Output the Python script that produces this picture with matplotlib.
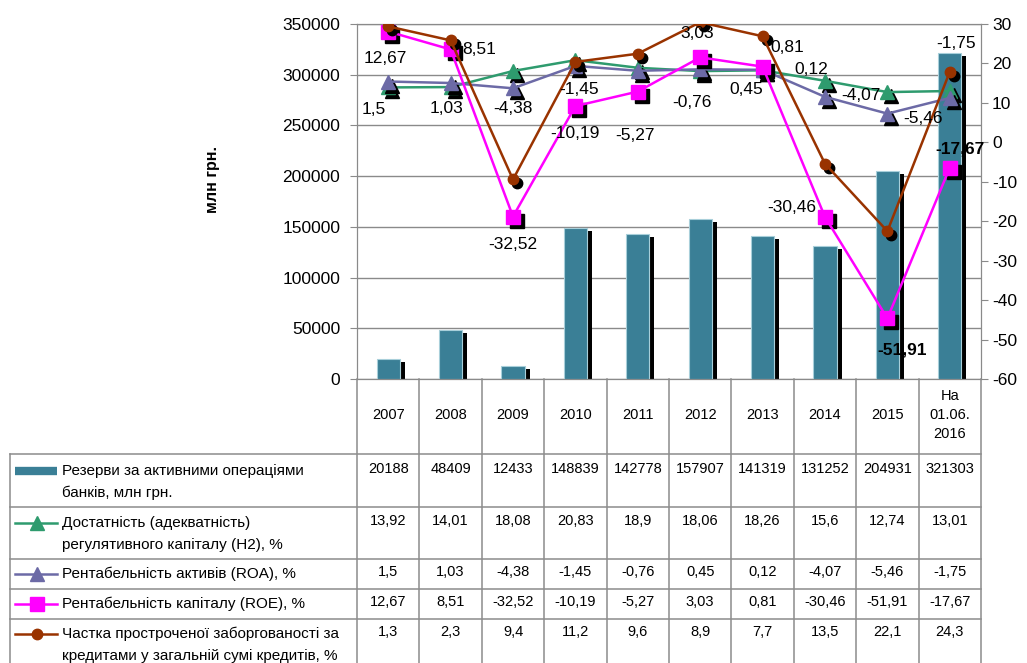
import numpy as np
import matplotlib
matplotlib.use('Agg')
import matplotlib.pyplot as plt
from matplotlib.transforms import offset_copy

plt.rcParams['font.family'] = ['Liberation Sans', 'DejaVu Sans']
plt.rcParams['axes.unicode_minus'] = False

periods = ['2007', '2008', '2009', '2010', '2011', '2012', '2013', '2014', '2015', 'На\n01.06.\n2016']
reserves = [20188, 48409, 12433, 148839, 142778, 157907, 141319, 131252, 204931, 321303]
h2 = [13.92, 14.01, 18.08, 20.83, 18.9, 18.06, 18.26, 15.6, 12.74, 13.01]
roa = [1.5, 1.03, -4.38, -1.45, -0.76, 0.45, 0.12, -4.07, -5.46, -1.75]
roe = [12.67, 8.51, -32.52, -10.19, -5.27, 3.03, 0.81, -30.46, -51.91, -17.67]
npl = [1.3, 2.3, 9.4, 11.2, 9.6, 8.9, 7.7, 13.5, 22.1, 24.3]

names = ['Резерви за активними операціями\nбанків, млн грн.',
         'Достатність (адекватність)\nрегулятивного капіталу (Н2), %',
         'Рентабельність активів (ROA), %',
         'Рентабельність капіталу (ROE), %',
         'Частка простроченої заборгованості за\nкредитами у загальній сумі кредитів, %']

# --- styles ---
W, H = 1027, 663
BAR = '#3A7F96'
line_colors = ['#2E9B6E', '#6C6AA6', '#FF00FF', '#993300']
line_markers = ['^', '^', 's', 'o']
marker_sizes = [10.5, 10.5, 10, 7.5]
GRID = '#8a8a8a'

# label offsets in pixels (dx right, dy down)
roe_off = [(-3, 27), (29, 0), (0, 28), (0, 27), (-3, 44), (-3, -24), (25, -19), (-33, -10), (15, 32), (10, -19)]
roa_off = [(-14, 28), (-4, 25), (0, 20), (4, 24), (54, 32), (46, 20), (49, 0), (36, -1), (36, 5), (6, -54)]
roe_bold = [False] * 8 + [True, True]

fig = plt.figure(figsize=(W / 100, H / 100), dpi=100)

px_l, px_r, px_t, px_b = 357, 981, 24, 379
ax = fig.add_axes([px_l / W, 1 - px_b / H, (px_r - px_l) / W, (px_b - px_t) / H])
x = np.arange(len(periods))

# bars with an Excel-like shadow
shadow_bar = offset_copy(ax.transData, fig=fig, x=5, y=-3, units='dots')
ax.bar(x, reserves, width=0.37, color='black', transform=shadow_bar, zorder=2)
ax.bar(x, reserves, width=0.37, color=BAR, edgecolor='#A8CFDA', linewidth=0.8, zorder=3)
ax.set_xlim(-0.5, len(periods) - 0.5)
ax.set_ylim(0, 350000)
ax.set_yticks(range(0, 350001, 50000))
ax.yaxis.grid(True, color=GRID, linewidth=1)
ax.set_axisbelow(True)
ax.tick_params(axis='x', bottom=False, labelbottom=False)
ax.tick_params(axis='y', length=5, color=GRID, labelsize=12.5, pad=7)
for s in ax.spines.values():
    s.set_color(GRID)

# stacked lines on the secondary axis (Excel "stacked line" type)
stack = np.cumsum([h2, roa, roe, npl], axis=0)
ax2 = ax.twinx()
ax2.set_ylim(-60, 30)
ax2.set_yticks(range(-60, 31, 10))
ax2.tick_params(axis='y', length=5, color=GRID, labelsize=12.5, pad=3)
for s in ax2.spines.values():
    s.set_color(GRID)

shadow = offset_copy(ax2.transData, fig=fig, x=4, y=-4, units='dots')
for k in range(4):
    ax2.plot(x, stack[k], ls='none', marker=line_markers[k], ms=marker_sizes[k],
             color='black', transform=shadow, zorder=2 + 2 * k)
    ax2.plot(x, stack[k], color=line_colors[k], lw=1.8, marker=line_markers[k],
             ms=marker_sizes[k], mfc=line_colors[k], mec=line_colors[k], zorder=3 + 2 * k)

for i in range(len(x)):
    dx, dy = roa_off[i]
    ax2.annotate(f'{roa[i]:g}'.replace('.', ','), (x[i], stack[1][i]), xytext=(dx, -dy),
                 textcoords='offset pixels', ha='center', va='center', fontsize=12.5, zorder=20)
    dx, dy = roe_off[i]
    ax2.annotate(f'{roe[i]:g}'.replace('.', ','), (x[i], stack[2][i]), xytext=(dx, -dy),
                 textcoords='offset pixels', ha='center', va='center', fontsize=12.5,
                 fontweight='bold' if roe_bold[i] else 'normal', zorder=20)

fig.text(212 / W, 1 - 180 / H, 'млн грн.', rotation=90, fontsize=11.5,
         fontweight='bold', ha='center', va='center')

# --- data table below the plot ---
cw = (px_r - px_l) / len(periods)
lead = (px_l - 10) / cw
axt = fig.add_axes([10 / W, 0, (px_r - 10) / W, (H - px_b) / H])
axt.set_xlim(-0.5 - lead, len(periods) - 0.5)
axt.set_ylim(H - px_b, 0)
axt.axis('off')


def px2x(p):
    return -0.5 - lead + (p - 10) / cw


row_lines = [75, 128, 180, 210, 240]
line_kw = dict(color='#8c8c8c', lw=1.1, clip_on=False)
for i in range(len(periods) + 1):
    axt.plot([i - 0.5, i - 0.5], [0, H - px_b], **line_kw)
axt.plot([px2x(10), px2x(10)], [75, H - px_b], **line_kw)
for yl in row_lines:
    axt.plot([px2x(10), len(periods) - 0.5], [yl, yl], **line_kw)

for i, p in enumerate(periods):
    axt.text(i, 36, p, ha='center', va='center', fontsize=10.5, linespacing=1.45)

row_y = [92, 144, 195, 225, 255]
table_vals = [reserves, h2, roa, roe, npl]
for r in range(5):
    for i, v in enumerate(table_vals[r]):
        axt.text(i, row_y[r] - 2, f'{v:g}'.replace('.', ','), ha='center', va='center', fontsize=10.5)
    for j, ln in enumerate(names[r].split('\n')):
        axt.text(px2x(62), row_y[r] + 22 * j, ln, ha='left', va='center', fontsize=11)

# legend keys
kx = [px2x(15), px2x(57)]
axt.plot(kx, [row_y[0], row_y[0]], color=BAR, lw=6, solid_capstyle='butt')
for k in range(4):
    yk = row_y[k + 1]
    axt.plot(kx, [yk, yk], color=line_colors[k], lw=1.8)
    axt.plot([px2x(37)], [yk], marker=line_markers[k], ms=marker_sizes[k],
             color=line_colors[k], ls='none')

fig.savefig('out.png', dpi=100)
